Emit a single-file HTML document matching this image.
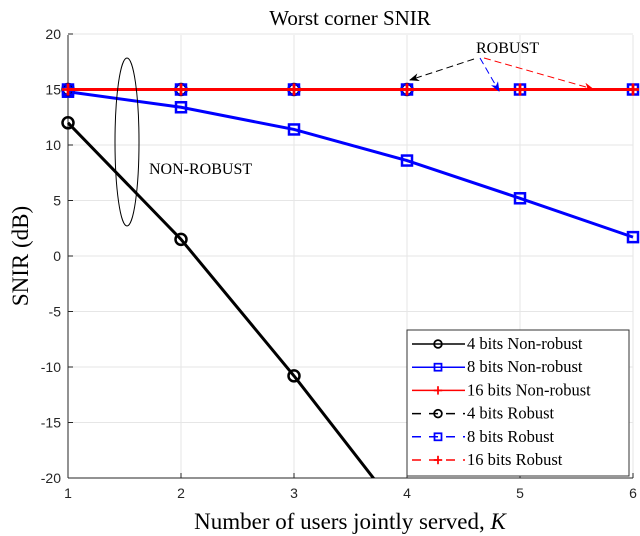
<!DOCTYPE html>
<html><head><meta charset="utf-8"><style>
body{margin:0;background:#fff;}
svg{display:block;font-family:"Liberation Sans",sans-serif;}
.serif{font-family:"Liberation Serif",serif;}
</style></head><body>
<svg id="chart" width="640" height="536" viewBox="0 0 640 536">
<defs>
<clipPath id="plotclip"><rect x="55" y="25" width="590" height="453"/></clipPath>
<marker id="ab" markerWidth="10" markerHeight="8" refX="9" refY="4" orient="auto"><path d="M0,0 L10,4 L0,8 L3,4z" fill="#000"/></marker>
<marker id="abl" markerWidth="10" markerHeight="8" refX="9" refY="4" orient="auto"><path d="M0,0 L10,4 L0,8 L3,4z" fill="#00f"/></marker>
<marker id="ar" markerWidth="10" markerHeight="8" refX="9" refY="4" orient="auto"><path d="M0,0 L10,4 L0,8 L3,4z" fill="#f00"/></marker>
</defs>
<g id="grid"></g>
<g id="axes"></g>
<g id="series" clip-path="url(#plotclip)"></g>
<text class="serif" x="350" y="25" font-size="21" text-anchor="middle">Worst corner SNIR</text>
<text class="serif" x="350" y="529" font-size="23" text-anchor="middle">Number of users jointly served, <tspan font-style="italic">K</tspan></text>
<text class="serif" x="28" y="256" font-size="23" text-anchor="middle" transform="rotate(-90 28 256)">SNIR (dB)</text>
<g>
<ellipse cx="127" cy="142" rx="12" ry="84" fill="none" stroke="#000" stroke-width="1"/>
<text class="serif" x="149" y="174" font-size="16">NON-ROBUST</text>
</g>
<g>
<text class="serif" x="476" y="53" font-size="16">ROBUST</text>
<line x1="474" y1="59" x2="410" y2="80" stroke="#000" stroke-dasharray="7,4" marker-end="url(#ab)"/>
<line x1="480" y1="58" x2="499" y2="91" stroke="#00f" stroke-dasharray="7,4" marker-end="url(#abl)"/>
<line x1="484" y1="58" x2="593" y2="89" stroke="#f00" stroke-dasharray="7,4" marker-end="url(#ar)"/>
</g>
<g id="legend">
<rect x="407" y="330" width="222" height="146" fill="#fff" stroke="#333" stroke-width="1"/>
</g>
</svg>
<script>
const kValues=[1,2,3,4,5,6];
const nr4=[12,1.5,-10.8,-23.9];
const nr8=[14.8,13.4,11.4,8.6,5.2,1.7];
const nr16=[15,15,15,15,15,15];
const r4=[15,15,15,15];
const r8=[15,15,15,15,15,15];
const r16=[15,15,15,15,15,15];
const xTicks=[1,2,3,4,5,6];
const yTicks=[20,15,10,5,0,-5,-10,-15,-20];
const legendLabels=["4 bits Non-robust","8 bits Non-robust","16 bits Non-robust","4 bits Robust","8 bits Robust","16 bits Robust"];

const NS="http://www.w3.org/2000/svg";
const X=k=>68+(k-1)*113;
const Y=v=>256-v*11.1;
function mk(tag,attrs,parent){const e=document.createElementNS(NS,tag);for(const a in attrs)e.setAttribute(a,attrs[a]);parent.appendChild(e);return e;}
const grid=document.getElementById('grid'),axes=document.getElementById('axes'),ser=document.getElementById('series'),leg=document.getElementById('legend');
xTicks.forEach(t=>{
  const g=mk('line',{x1:X(t),x2:X(t),y1:35,y2:478,stroke:'#e6e6e6'},grid);
  
  
  const tx=mk('text',{x:X(t),y:498,'font-size':14,'text-anchor':'middle',fill:'#262626'},axes);tx.textContent=t;
  
  
  mk('line',{x1:X(t),x2:X(t),y1:478,y2:473,stroke:'#262626'},axes);
});
yTicks.forEach(t=>{
  const g=mk('line',{x1:68,x2:633,y1:Y(t),y2:Y(t),stroke:'#e6e6e6'},grid);
  
  
  const tx=mk('text',{x:61,y:Y(t)+5,'font-size':14,'text-anchor':'end',fill:'#262626'},axes);tx.textContent=t;
  
  
  mk('line',{x1:68,x2:73,y1:Y(t),y2:Y(t),stroke:'#262626'},axes);
});
mk('line',{x1:68,x2:68,y1:35,y2:478,stroke:'#262626'},axes);
mk('line',{x1:68,x2:633,y1:478,y2:478,stroke:'#262626'},axes);

function marker(type,x,y,color,parent){
  if(type==='o')return mk('circle',{cx:x,cy:y,r:5.5,fill:'none',stroke:color,'stroke-width':2.5},parent);
  if(type==='s')return mk('rect',{x:x-5,y:y-5,width:10,height:10,fill:'none',stroke:color,'stroke-width':2.5},parent);
  const g=mk('g',{},parent);
  mk('line',{x1:x-6,x2:x+6,y1:y,y2:y,stroke:color,'stroke-width':2.5},g);
  mk('line',{x1:x,x2:x,y1:y-6,y2:y+6,stroke:color,'stroke-width':2.5},g);
  return g;
}
const series=[
 {d:nr4,c:'#000',m:'o',dash:null,name:'series-4bit-nonrobust'},
 {d:nr8,c:'#00f',m:'s',dash:null,name:'series-8bit-nonrobust'},
 {d:r4,c:'#000',m:'o',dash:'8,5',name:'series-4bit-robust'},
 {d:r8,c:'#00f',m:'s',dash:'8,5',name:'series-8bit-robust'},
 {d:nr16,c:'#f00',m:'+',dash:null,name:'series-16bit-nonrobust'},
 {d:r16,c:'#f00',m:'+',dash:'8,5',name:'series-16bit-robust'}
];
series.forEach(s=>{
  const g=mk('g',{},ser);
  
  
  const pts=s.d.map((v,i)=>X(kValues[i])+','+Y(v)).join(' ');
  const a={points:pts,fill:'none',stroke:s.c,'stroke-width':3};
  if(s.dash)a['stroke-dasharray']=s.dash;
  mk('polyline',a,g);
  s.d.forEach((v,i)=>{
    const m=marker(s.m,X(kValues[i]),Y(v),s.c,g);
    
    
  });
});
const legStyles=[['#000','o',null],['#00f','s',null],['#f00','+',null],['#000','o','8,5'],['#00f','s','8,5'],['#f00','+','8,5']];
legendLabels.forEach((lab,i)=>{
  const y=344+i*23.2;
  const g=mk('g',{},leg);
  
  
  const st=legStyles[i];
  const a={x1:412,x2:465,y1:y,y2:y,stroke:st[0],'stroke-width':1.5};
  if(st[2])a['stroke-dasharray']='9,8';
  mk('line',a,g);
  marker(st[1],438,y,st[0],g).setAttribute('transform','translate(438,'+y+') scale(0.7) translate(-438,'+(-y)+')');
  const t=mk('text',{x:467,y:y+5,'font-size':16.5,'font-family':'Liberation Serif, serif'},g);
  t.textContent=lab;
});
</script>
</body></html>
